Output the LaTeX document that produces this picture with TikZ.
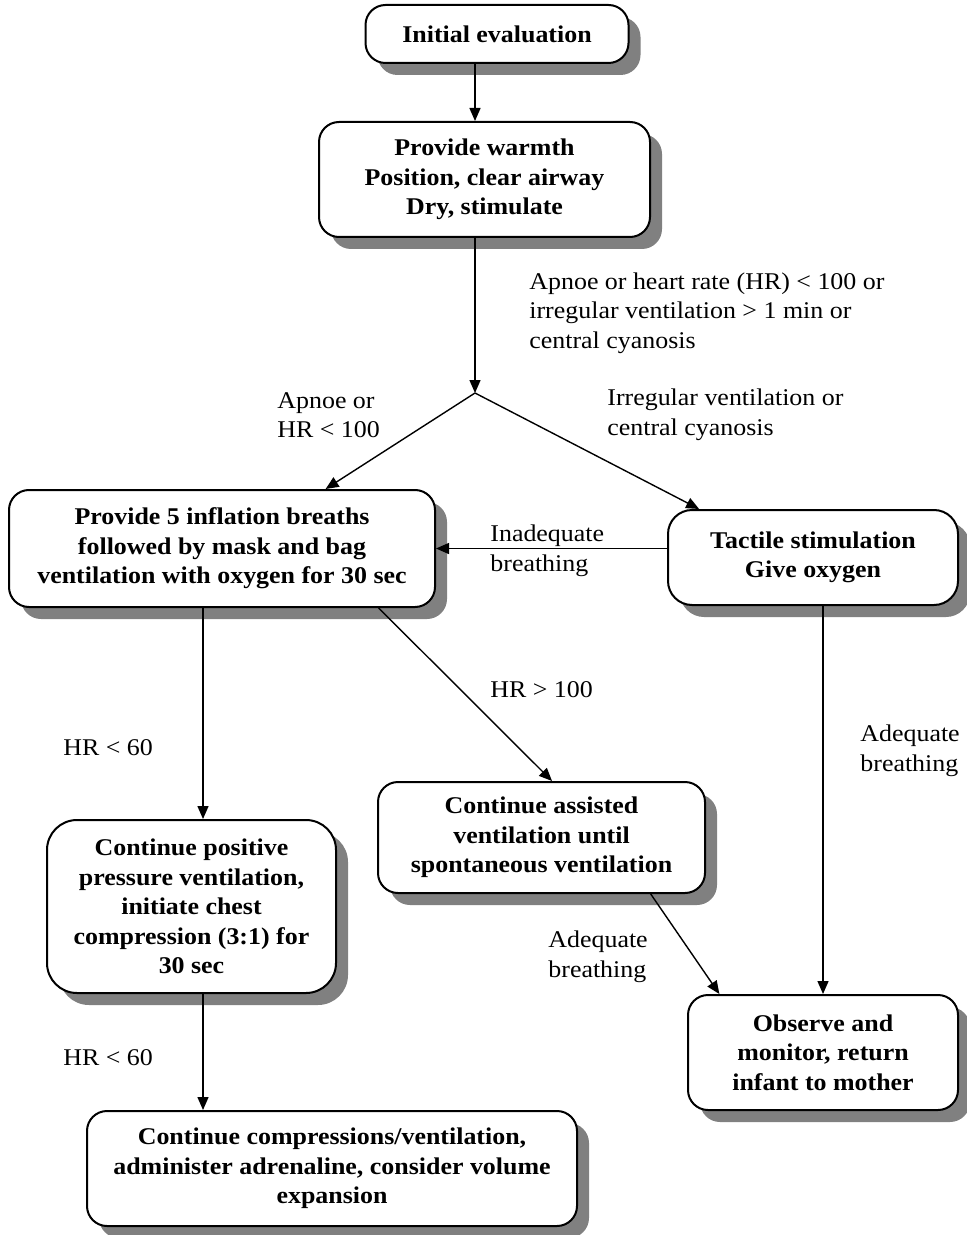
\documentclass[tikz,border=0pt]{standalone}
\usepackage{fontspec}
\setmainfont{Liberation Serif}[FakeStretch=1.08]
\usetikzlibrary{shadows}
\usetikzlibrary{positioning}
\usetikzlibrary{arrows.meta,calc}
\tikzstyle{roundbox} = [draw,line width=1pt,rounded corners=10pt,fill=white,align=center,inner sep=2pt,
  font=\fontsize{12}{14.75}\selectfont\bfseries,
  drop shadow={shadow xshift=6pt,shadow yshift=-6pt,fill=black!50,opacity=1}]
\tikzstyle{edge} = [draw,line width=0.7pt,-{Triangle[length=6.5pt,width=5.5pt]}]
\tikzstyle{undirectededge} = [draw,line width=0.7pt]
\tikzstyle{lbl} = [align=left,anchor=west,inner sep=0pt,font=\fontsize{12}{14.75}\selectfont]

\begin{document}
\begin{tikzpicture}[x=0.5pt,y=-0.5pt]

 \useasboundingbox (0,0) rectangle (966,1235);

 % boxes
 \node[roundbox, minimum width=131.5pt, minimum height=29pt] (init) at (497,34) {Initial evaluation};
 \node[roundbox, minimum width=165.5pt, minimum height=57.5pt] (warm) at (484.5,179.5)
   {Provide warmth\\Position, clear airway\\Dry, stimulate};
 \node[roundbox, minimum width=213pt, minimum height=58.5pt] (infl) at (222,548.5)
   {Provide 5 inflation breaths\\followed by mask and bag\\ventilation with oxygen for 30 sec};
 \node[roundbox, rounded corners=12pt, minimum width=145pt, minimum height=47.5pt] (tact) at (813,557.5)
   {Tactile stimulation\\Give oxygen};
 \node[roundbox, minimum width=163.5pt, minimum height=55.5pt] (assist) at (541.5,837.5)
   {Continue assisted\\ventilation until\\spontaneous ventilation};
 \node[roundbox, rounded corners=15pt, minimum width=144.5pt, minimum height=86.5pt] (pos) at (191.5,906.5)
   {Continue positive\\pressure ventilation,\\initiate chest\\compression (3:1) for\\30 sec};
 \node[roundbox, minimum width=135pt, minimum height=57.5pt] (obs) at (823,1052.5)
   {Observe and\\monitor, return\\infant to mother};
 \node[roundbox, minimum width=245pt, minimum height=57.5pt] (comp) at (332,1168.5)
   {Continue compressions/ventilation,\\administer adrenaline, consider volume\\expansion};

 \coordinate (split) at (475,393);
 \coordinate (lcol) at (203,0);

 % connectors
 \path[edge] (init.south -| split) -- (warm.north -| split);
 \path[edge] (warm.south -| split) -- (split);
 \path[edge] (split) -- ($(infl.north west)!0.742!(infl.north east)$);
 \path[edge] (split) -- ($(tact.north west)!0.11!(tact.north east)$);
 \path[edge] (tact.west |- infl.east) -- (infl.east);
 \path[edge] (infl.south -| lcol) -- (pos.north -| lcol);
 \path[edge] ($(infl.south west)!0.866!(infl.south east)$) -- ($(assist.north west)!0.532!(assist.north east)$);
 \path[edge] (tact.south -| obs.north) -- (obs.north);
 \path[edge] ($(assist.south west)!0.832!(assist.south east)$) -- ($(obs.north west)!0.119!(obs.north east)$);
 \path[edge] (pos.south -| lcol) -- (comp.north -| lcol);

 % labels
 \node[lbl] (l1) at (529,313) {Apnoe or heart rate (HR) < 100 or\\irregular ventilation > 1 min or\\central cyanosis};
 \node[lbl] (l2) at (277,415) {Apnoe or\\HR < 100};
 \node[lbl] (l3) at (607,415) {Irregular ventilation or\\central cyanosis};
 \node[lbl] (l4) at (490,551) {Inadequate\\breathing};
 \node[lbl] (l5) at (490,690) {HR > 100};
 \node[lbl] (l6) at (63,748) {HR < 60};
 \node[lbl] (l7) at (860,751) {Adequate\\breathing};
 \node[lbl] (l8) at (548,957) {Adequate\\breathing};
 \node[lbl] (l9) at (63,1058) {HR < 60};

\end{tikzpicture}
\end{document}
